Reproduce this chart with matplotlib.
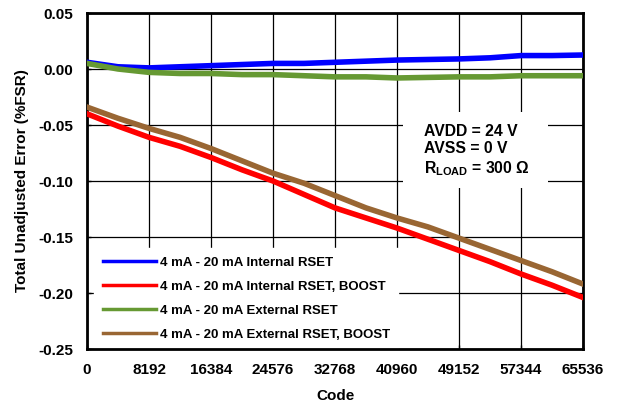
import numpy as np
import matplotlib
matplotlib.use('Agg')
import matplotlib.pyplot as plt
from matplotlib.patches import Rectangle

plt.rcParams['font.family'] = ['Liberation Sans', 'DejaVu Sans']
plt.rcParams['font.weight'] = 'bold'
plt.rcParams['axes.unicode_minus'] = False

# codes sampled every 4096
codes = [0, 4096, 8192, 12288, 16384, 20480, 24576, 28672, 32768,
         36864, 40960, 45056, 49152, 53248, 57344, 61440, 65536]

int_rset = [0.006, 0.002, 0.001, 0.002, 0.003, 0.004, 0.005, 0.005, 0.006,
            0.007, 0.008, 0.0085, 0.009, 0.010, 0.012, 0.012, 0.0125]
int_rset_boost = [-0.040, -0.051, -0.061, -0.069, -0.079, -0.090, -0.100, -0.112, -0.124,
                  -0.133, -0.142, -0.152, -0.162, -0.172, -0.183, -0.193, -0.204]
ext_rset = [0.005, 0.000, -0.003, -0.004, -0.004, -0.005, -0.005, -0.006, -0.007,
            -0.007, -0.008, -0.0075, -0.007, -0.007, -0.006, -0.006, -0.006]
ext_rset_boost = [-0.034, -0.044, -0.053, -0.061, -0.071, -0.082, -0.093, -0.102, -0.113,
                  -0.124, -0.133, -0.141, -0.151, -0.161, -0.171, -0.181, -0.192]

labels = ['4 mA - 20 mA Internal RSET',
          '4 mA - 20 mA Internal RSET, BOOST',
          '4 mA - 20 mA External RSET',
          '4 mA - 20 mA External RSET, BOOST']
colors = ['#0000FF', '#FF0000', '#669933', '#996633']
xticks = [0, 8192, 16384, 24576, 32768, 40960, 49152, 57344, 65536]
yticks = [0.05, 0.00, -0.05, -0.10, -0.15, -0.20, -0.25]

fig = plt.figure(figsize=(6.18, 4.04), dpi=100)
ax = fig.add_axes([0.1408, 0.1361, 0.8026, 0.8317])

series = [int_rset, int_rset_boost, ext_rset, ext_rset_boost]
for ys, c, lab in zip(series, colors, labels):
    ax.plot(codes, ys, color=c, lw=4, label=lab, zorder=3)

ax.set_xlim(0, 65536)
ax.set_ylim(-0.25, 0.05)
ax.set_xticks(xticks)
ax.set_yticks(yticks)
ax.set_yticklabels(['%.2f' % v for v in yticks])
ax.grid(True, color='black', lw=0.9, zorder=1)
ax.set_axisbelow(True)
ax.tick_params(direction='in', length=3, width=1, labelsize=11, pad=10)
for s in ax.spines.values():
    s.set_linewidth(2)

ax.set_xlabel('Code', fontsize=11, fontweight='bold', labelpad=9)
ax.set_ylabel('Total Unadjusted Error (%FSR)', fontsize=11, fontweight='bold', labelpad=7)

# legend (white box, no frame)
leg = ax.legend(loc='lower left', bbox_to_anchor=(0.015, 0.0), borderaxespad=0.0,
                fontsize=9.5, frameon=True, fancybox=False, framealpha=1,
                edgecolor='white', facecolor='white', handlelength=4.0,
                handletextpad=0.3, labelspacing=0.88, borderpad=0.64)
for ln in leg.get_lines():
    ln.set_linewidth(2.5)
leg.set_zorder(2)

# condition box
ax.add_patch(Rectangle((0.637, 0.479), 0.292, 0.226, transform=ax.transAxes,
                       facecolor='white', edgecolor='none', zorder=2))
ax.text(0.679, 0.670, 'AVDD = 24 V\nAVSS = 0 V\nR$_\\mathregular{LOAD}$ = 300 \u03a9',
        transform=ax.transAxes, va='top', ha='left', fontsize=11.3,
        fontweight='bold', linespacing=1.2, zorder=4)

fig.savefig('out.png', dpi=100)
